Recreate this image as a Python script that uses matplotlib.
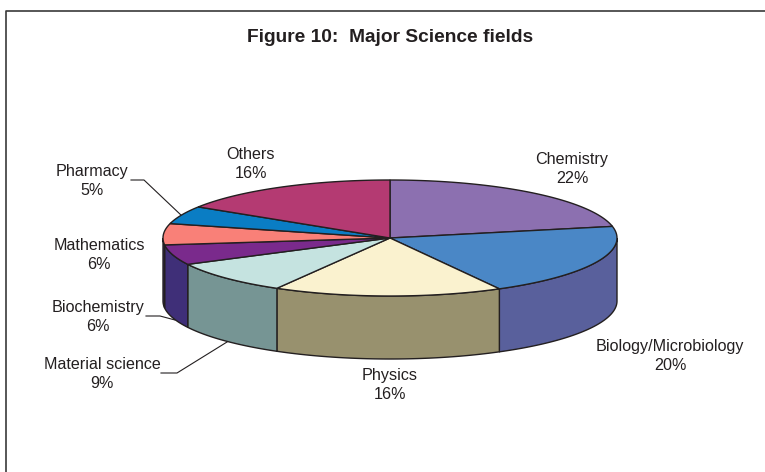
#!/usr/bin/env python

import numpy as np
import matplotlib
matplotlib.use("Agg")
import matplotlib.pyplot as plt
from matplotlib.patches import Polygon

plt.rcParams['font.family'] = ['Liberation Sans', 'DejaVu Sans']

# ─── Data ───────────────────────────────────────────────────────────
fields = ["Chemistry", "Biology/Microbiology", "Physics", "Material science",
          "Biochemistry", "Mathematics", "Pharmacy", "Others"]
# estimated from the slice edges, labels show them rounded
shares = [21.8, 20.2, 16.3, 9.2, 5.6, 5.9, 5.0, 16.0]

top_colors = ["#8C70B0", "#4A87C6", "#FAF2CF", "#C5E3E0",
              "#7A2A8C", "#F98078", "#0A7DC4", "#B43A72"]
side_colors = ["#5F4C7A", "#59609C", "#98916E", "#769594",
               "#3F2F78", "#3F2F78", "#07558A", "#7A2750"]

# ─── Layout (pixels) ────────────────────────────────────────────────
cx, cy = 390, 238
rx, ry = 227, 58
depth = 63
label_pos = [(572, 169), (670, 356), (390, 385), (102, 374),
             (98, 317), (99, 255), (92, 181), (251, 164)]
leaders = [
    [(131, 180), (144, 180), (182, 216)],
    [(146, 316), (160, 316), (175, 320)],
    [(161, 373), (177, 373), (227, 342)],
]


def rim(a):
    """Point on the top ellipse, a in degrees clockwise from 12 o'clock"""
    a = np.radians(a)
    return np.column_stack([cx + rx * np.sin(a), cy - ry * np.cos(a)])


fig = plt.figure(figsize=(7.65, 4.72), dpi=100)
ax = fig.add_axes([0, 0, 1, 1])
ax.set_xlim(0, 765)
ax.set_ylim(472, 0)
ax.axis('off')

edges = np.concatenate([[0], np.cumsum(shares)]) * 3.6
edge_col = "#231F20"

# side walls first, only the front half of the rim shows (90..270 deg)
for i in range(len(shares)):
    a0, a1 = max(edges[i], 90), min(edges[i + 1], 270)
    if a1 <= a0:
        continue
    arc = rim(np.linspace(a0, a1, 60))
    wall = np.vstack([arc, (arc + [0, depth])[::-1]])
    ax.add_patch(Polygon(wall, closed=True, fc=side_colors[i], ec=edge_col, lw=1.0, zorder=2))

# top slices
for i in range(len(shares)):
    arc = rim(np.linspace(edges[i], edges[i + 1], 80))
    top = np.vstack([[cx, cy], arc])
    ax.add_patch(Polygon(top, closed=True, fc=top_colors[i], ec=edge_col, lw=1.0, zorder=3))

for name, share, (x, y) in zip(fields, shares, label_pos):
    ax.text(x, y, f"{name}\n{share:.0f}%", ha='center', va='center', fontsize=11.6,
            color="#231F20", linespacing=1.3, zorder=5)

for pts in leaders:
    xs, ys = zip(*pts)
    ax.plot(xs, ys, color=edge_col, lw=0.8, zorder=1)

ax.text(390.5, 37.5, "Figure 10:  Major Science fields", ha='center', va='center',
        fontsize=13.8, fontweight='bold', color="#231F20")

# page frame, open at the right and bottom
ax.plot([6.5, 6.5, 765], [472, 10.5, 10.5], color="#3A3A3A", lw=1.2, zorder=1)

fig.savefig("out.png", dpi=100)
